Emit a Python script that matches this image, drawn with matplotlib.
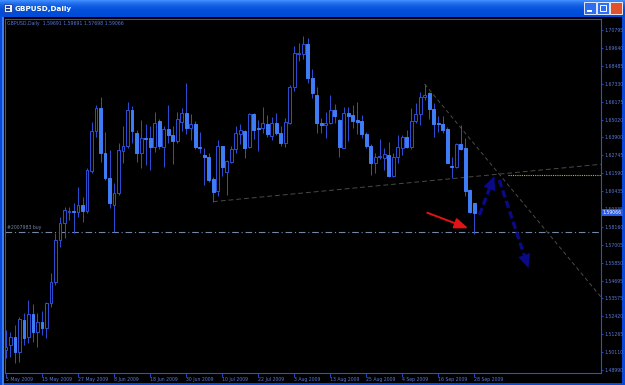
import matplotlib
matplotlib.use("Agg")
import matplotlib.pyplot as plt
import matplotlib.transforms as mtransforms
from matplotlib.patches import Rectangle
import numpy as np

# GBPUSD daily candles, 5 May 2009 .. 28 Sep 2009
opens = [1.5026, 1.5058, 1.5112, 1.5016, 1.5219, 1.5112, 1.5257, 1.5144, 1.5208, 1.5165,
         1.5326, 1.5465, 1.5732, 1.5839, 1.5912, 1.5916, 1.5914, 1.5957, 1.5920, 1.6177,
         1.6434, 1.6577, 1.6288, 1.6128, 1.5957, 1.6036, 1.6305, 1.6335, 1.6566, 1.6421,
         1.6292, 1.6386, 1.6384, 1.6331, 1.6498, 1.6331, 1.6442, 1.6406, 1.6369, 1.6491,
         1.6549, 1.6453, 1.6476, 1.6329, 1.6278, 1.6267, 1.6121, 1.6049, 1.6335, 1.6171,
         1.6235, 1.6314, 1.6412, 1.6431, 1.6331, 1.6540, 1.6451, 1.6449, 1.6476, 1.6401,
         1.6485, 1.6416, 1.6357, 1.6481, 1.6712, 1.6928, 1.6926, 1.6990, 1.6769, 1.6662,
         1.6481, 1.6470, 1.6481, 1.6566, 1.6502, 1.6325, 1.6545, 1.6532, 1.6502, 1.6496,
         1.6410, 1.6335, 1.6224, 1.6265, 1.6256, 1.6278, 1.6145, 1.6263, 1.6325, 1.6391,
         1.6331, 1.6496, 1.6540, 1.6648, 1.6677, 1.6573, 1.6483, 1.6476, 1.6444, 1.6209,
         1.6198, 1.6346, 1.6320, 1.6053, 1.59691]
highs = [1.5155, 1.5144, 1.5187, 1.5240, 1.5261, 1.5347, 1.5321, 1.5261, 1.5276, 1.5336,
         1.5518, 1.5775, 1.5882, 1.5946, 1.5946, 1.5967, 1.6074, 1.6010, 1.6192, 1.6491,
         1.6598, 1.6652, 1.6427, 1.6310, 1.6096, 1.6352, 1.6464, 1.6620, 1.6592, 1.6438,
         1.6502, 1.6476, 1.6464, 1.6553, 1.6506, 1.6464, 1.6598, 1.6464, 1.6551, 1.6581,
         1.6742, 1.6538, 1.6496, 1.6427, 1.6325, 1.6292, 1.6138, 1.6374, 1.6337, 1.6245,
         1.6335, 1.6464, 1.6476, 1.6438, 1.6549, 1.6545, 1.6502, 1.6583, 1.6534, 1.6519,
         1.6549, 1.6464, 1.6517, 1.6724, 1.6977, 1.6998, 1.7041, 1.7026, 1.6827, 1.6716,
         1.6517, 1.6555, 1.6662, 1.6605, 1.6511, 1.6583, 1.6583, 1.6598, 1.6620, 1.6534,
         1.6427, 1.6348, 1.6292, 1.6378, 1.6325, 1.6363, 1.6292, 1.6406, 1.6406, 1.6438,
         1.6577, 1.6613, 1.6680, 1.6733, 1.6680, 1.6613, 1.6528, 1.6528, 1.6455, 1.6267,
         1.6357, 1.6468, 1.6384, 1.6057, 1.59691]
lows = [1.4973, 1.4984, 1.4941, 1.4951, 1.5058, 1.5069, 1.5080, 1.5048, 1.5123, 1.5101,
        1.5304, 1.5443, 1.5689, 1.5743, 1.5860, 1.5775, 1.5882, 1.5850, 1.5903, 1.6160,
        1.6396, 1.6235, 1.6117, 1.5935, 1.5786, 1.6021, 1.6228, 1.6320, 1.6352, 1.6235,
        1.6196, 1.6213, 1.6181, 1.6299, 1.6314, 1.6203, 1.6357, 1.6220, 1.6357, 1.6434,
        1.6412, 1.6374, 1.6314, 1.6292, 1.6085, 1.6106, 1.5978, 1.6017, 1.6143, 1.6021,
        1.6224, 1.6292, 1.6348, 1.6256, 1.6320, 1.6378, 1.6305, 1.6416, 1.6395, 1.6374,
        1.6406, 1.6335, 1.6331, 1.6476, 1.6690, 1.6883, 1.6891, 1.6742, 1.6641, 1.6421,
        1.6421, 1.6384, 1.6476, 1.6481, 1.6267, 1.6320, 1.6369, 1.6449, 1.6412, 1.6384,
        1.6320, 1.6149, 1.6164, 1.6250, 1.6181, 1.6138, 1.6138, 1.6224, 1.6278, 1.6320,
        1.6314, 1.6481, 1.6470, 1.6630, 1.6506, 1.6395, 1.6427, 1.6416, 1.6224, 1.6128,
        1.6192, 1.6310, 1.6014, 1.5903, 1.57698]
closes = [1.5048, 1.5112, 1.5016, 1.5223, 1.5101, 1.5257, 1.5144, 1.5208, 1.5165, 1.5330,
          1.5465, 1.5732, 1.5839, 1.5925, 1.5916, 1.5912, 1.5957, 1.5920, 1.6181, 1.6434,
          1.6577, 1.6288, 1.6128, 1.5972, 1.6036, 1.6310, 1.6335, 1.6566, 1.6434, 1.6292,
          1.6384, 1.6382, 1.6331, 1.6485, 1.6335, 1.6442, 1.6404, 1.6369, 1.6509, 1.6549,
          1.6453, 1.6476, 1.6327, 1.6325, 1.6263, 1.6117, 1.6042, 1.6335, 1.6203, 1.6239,
          1.6314, 1.6417, 1.6438, 1.6325, 1.6540, 1.6438, 1.6447, 1.6481, 1.6410, 1.6485,
          1.6416, 1.6357, 1.6487, 1.6716, 1.6930, 1.6932, 1.6990, 1.6769, 1.6673, 1.6481,
          1.6470, 1.6481, 1.6566, 1.6528, 1.6327, 1.6549, 1.6528, 1.6498, 1.6491, 1.6410,
          1.6335, 1.6224, 1.6267, 1.6269, 1.6282, 1.6145, 1.6263, 1.6331, 1.6391, 1.6331,
          1.6496, 1.6540, 1.6648, 1.6662, 1.6571, 1.6476, 1.6479, 1.6438, 1.6228, 1.6203,
          1.6346, 1.6316, 1.6049, 1.5914, 1.59066]

date_labels = ["5 May 2009", "15 May 2009", "27 May 2009", "8 Jun 2009", "18 Jun 2009",
               "30 Jun 2009", "10 Jul 2009", "22 Jul 2009", "3 Aug 2009", "13 Aug 2009",
               "25 Aug 2009", "4 Sep 2009", "16 Sep 2009", "28 Sep 2009"]
price_labels = [1.70795, 1.69640, 1.68485, 1.67330, 1.66175, 1.65020, 1.63900, 1.62745,
                1.61590, 1.60435, 1.59335, 1.58160, 1.57005, 1.55850, 1.54695, 1.53575,
                1.52420, 1.51265, 1.50110, 1.48990]

# drawing objects (bar index, price)
buy_level = 1.57814
support_line = [(46, 1.5978), (132.2, 1.6218)]
resist_line = [(93, 1.6733), (132.2, 1.5366)]
yellow_line = [(111.5, 1.61472), (132.2, 1.61472)]
arrow_up = [(105.2, 1.58924), (108.5, 1.61427)]
arrow_down = [(109.6, 1.61170), (116.1, 1.55504)]
arrow_red = [(93.6, 1.59072), (102.7, 1.58071)]

W, H = 625, 385
fig = plt.figure(figsize=(W / 100, H / 100), dpi=100)
fig.patch.set_facecolor("#0A48D6")


def px_rect(x, y, w, h, z=5, **kw):
    r = Rectangle((x / W, 1 - (y + h) / H), w / W, h / H, transform=fig.transFigure,
                  zorder=z, **kw)
    fig.add_artist(r)
    return r


# window frame (behind the chart axes)
px_rect(2, 17, 2, 368, z=-10, color="#3B7DF4", lw=0)
px_rect(4, 17, 618, 366, z=-10, color="black", lw=0)
grad = fig.add_axes([0, 1 - 17 / H, 1, 17 / H], zorder=-5)
g = np.linspace(0, 1, 17)
cols = (np.array([[0.25, 0.55, 1.0]]) * (1 - g[:, None]) ** 3
        + np.array([[0.0, 0.30, 0.85]]) * (1 - (1 - g[:, None]) ** 3))
grad.imshow(cols[:, None, :].repeat(2, axis=1), aspect="auto", extent=(0, 1, 0, 1))
grad.axis("off")

# title bar icon, text and buttons
px_rect(4, 4, 8, 8, fc="#E8EEF8", ec="#1A3C9C", lw=0.6)
px_rect(6, 6, 4, 1.5, color="#1A3C9C", lw=0)
px_rect(6, 9, 4, 1.5, color="#1A3C9C", lw=0)
fig.text(15 / W, 1 - 8.5 / H, "GBPUSD,Daily", color="white", fontsize=5.2,
         fontweight="bold", va="center", ha="left")
for bx, fc in [(584, "#2F6EF0"), (597, "#2F6EF0"), (610, "#E0512C")]:
    px_rect(bx, 2, 12, 12, fc=fc, ec="white", lw=0.6)
px_rect(587, 10, 5, 1.5, color="white", lw=0)
px_rect(600, 5, 6, 6, fc="none", ec="white", lw=0.7)
fig.add_artist(plt.Line2D([613 / W, 619 / W], [1 - 5 / H, 1 - 11 / H], color="white", lw=1.1))
fig.add_artist(plt.Line2D([613 / W, 619 / W], [1 - 11 / H, 1 - 5 / H], color="white", lw=1.1))

# chart area
ax = fig.add_axes([5 / W, 1 - 372.5 / H, 596 / W, 354 / H])
ax.set_facecolor("black")
ax.set_xlim(-0.22, 132.2)
ax.set_ylim(1.48818, 1.71533)

axis_blue = "#2A4FD8"
label_blue = "#5A78D8"
wick_col = "#2D4FD6"
bear_col = "#3F7DF7"
fs = 3.3

x = np.arange(len(opens))
o, h, l, c = map(np.array, (opens, highs, lows, closes))
bull = c >= o
ax.vlines(x, l, h, color=wick_col, lw=0.7, zorder=2)
bottoms = np.minimum(o, c)
heights = np.maximum(np.abs(c - o), 0.00008)
ax.bar(x, heights, bottom=bottoms, width=0.66,
       color=np.where(bull, "black", bear_col), edgecolor=np.where(bull, wick_col, bear_col),
       lw=0.7, zorder=3)

# objects
ax.axhline(buy_level, color="#7388A3", lw=0.8, ls=(0, (6, 2.5, 1, 2.5)), zorder=1)
ax.text(0.3, buy_level + 0.0012, "#2007983 buy", color="#7388A3", fontsize=fs,
        va="bottom", ha="left")
ax.plot(*zip(*support_line), color="#4A4A4A", lw=0.7, ls=(0, (5, 3)), zorder=1)
ax.plot(*zip(*resist_line), color="#4A4A4A", lw=0.7, ls=(0, (4, 3)), zorder=1)
ax.plot(*zip(*yellow_line), color="#BDBD00", lw=0.8, ls=(0, (1, 1)), zorder=1)

navy = "#0A0A86"
for (x0, y0), (x1, y1) in (arrow_up, arrow_down):
    # dashed shaft, stopped short of the tip
    ax.plot([x0, x0 + 0.85 * (x1 - x0)], [y0, y0 + 0.85 * (y1 - y0)], color=navy,
            lw=2.4, dashes=(2.2, 1.1), solid_capstyle="butt", dash_capstyle="butt", zorder=5)
    ax.annotate("", xy=(x1, y1), xytext=(x0, y0), zorder=6,
                arrowprops=dict(arrowstyle="-|>,head_length=1.0,head_width=0.45",
                                mutation_scale=10, lw=0, color=navy,
                                shrinkA=0, shrinkB=0))
(x0, y0), (x1, y1) = arrow_red
ax.annotate("", xy=(x1, y1), xytext=(x0, y0), zorder=5,
            arrowprops=dict(arrowstyle="-|>,head_length=0.9,head_width=0.35",
                            mutation_scale=9, lw=1.4, color="#E01414",
                            shrinkA=0, shrinkB=0))

# header line inside chart
ax.text(0.004, 0.992, "GBPUSD,Daily  1.59691 1.59691 1.57698 1.59066", transform=ax.transAxes,
        color=label_blue, fontsize=fs, va="top", ha="left")

# axes styling
for s in ax.spines.values():
    s.set_color(axis_blue)
    s.set_linewidth(0.8)
ax.yaxis.tick_right()
ax.set_yticks(price_labels)
ax.set_yticklabels([f"{v:.5f}" for v in price_labels])
ax.tick_params(axis="y", colors=axis_blue, labelcolor=label_blue, labelsize=fs,
               length=1.5, width=0.6, pad=0.8)
ax.set_xticks(np.arange(len(date_labels)) * 8)
ax.set_xticklabels(date_labels)
ax.tick_params(axis="x", colors=axis_blue, labelcolor=label_blue, labelsize=fs,
               length=3, width=0.6, pad=0.6)
for lbl in ax.get_xticklabels():
    lbl.set_ha("left")

# current price marker
trans = mtransforms.blended_transform_factory(ax.transAxes, ax.transData)
ax.text(1.003, closes[-1], f"{closes[-1]:.5f}", transform=trans, color="white",
        fontsize=fs, va="center", ha="left", clip_on=False, zorder=10,
        bbox=dict(boxstyle="square,pad=0.2", fc="#2A5BE6", ec="none"))

fig.savefig("out.png", dpi=100, facecolor=fig.get_facecolor())
